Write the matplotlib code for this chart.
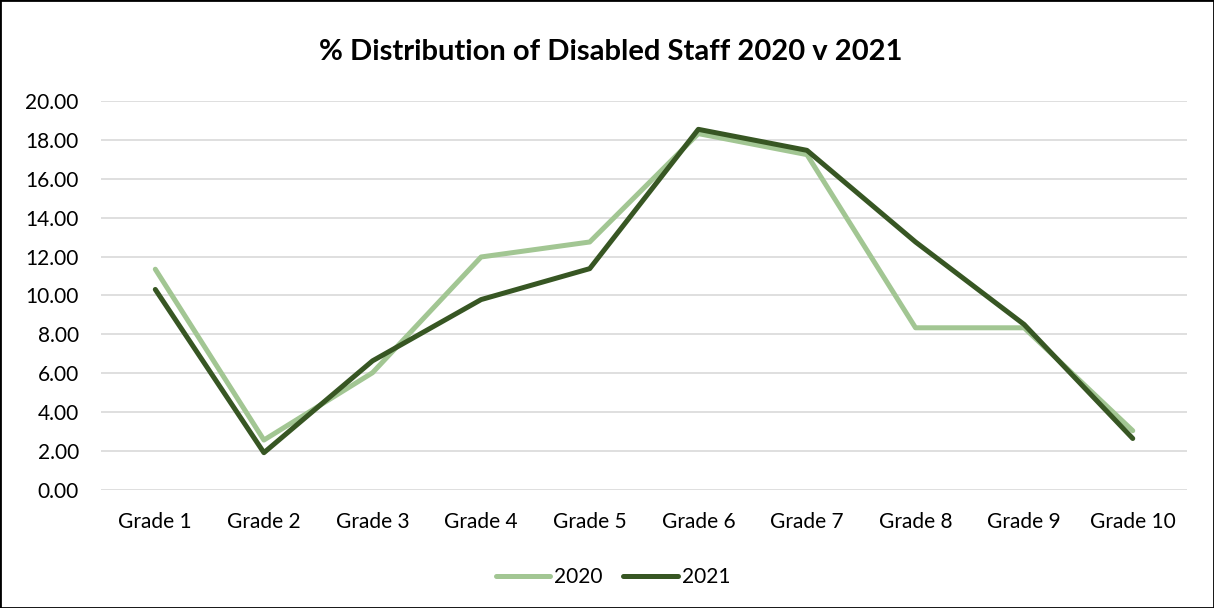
import matplotlib
matplotlib.use("Agg")
import matplotlib.pyplot as plt
from matplotlib.patches import Rectangle

plt.rcParams['font.family'] = ['Lato', 'DejaVu Sans']

grades = ['Grade 1', 'Grade 2', 'Grade 3', 'Grade 4', 'Grade 5',
          'Grade 6', 'Grade 7', 'Grade 8', 'Grade 9', 'Grade 10']
pct_2020 = [11.35, 2.57, 6.03, 11.98, 12.75, 18.32, 17.24, 8.34, 8.34, 3.05]
pct_2021 = [10.31, 1.92, 6.64, 9.79, 11.38, 18.54, 17.46, 12.75, 8.51, 2.65]
yticks = [0, 2, 4, 6, 8, 10, 12, 14, 16, 18, 20]

fig = plt.figure(figsize=(12.14, 6.08), dpi=100)
ax = fig.add_axes([0.0832, 0.194, 0.8946, 0.640])

x = range(len(grades))
ax.plot(x, pct_2020, color='#A2C693', lw=3.6, solid_capstyle='round',
        solid_joinstyle='round', label='2020')
ax.plot(x, pct_2021, color='#375623', lw=3.6, solid_capstyle='round',
        solid_joinstyle='round', label='2021')

ax.set_xlim(-0.5, len(grades) - 0.5)
ax.set_ylim(0, 20)
ax.set_yticks(yticks)
ax.set_yticklabels([f'{v:.2f}' for v in yticks], fontsize=15)
ax.set_xticks(list(x))
ax.set_xticklabels(grades, fontsize=15)
ax.tick_params(length=0)
ax.tick_params(axis='x', pad=16)
ax.tick_params(axis='y', pad=16)
ax.grid(axis='y', color='#D9D9D9', lw=1.2)
ax.set_axisbelow(True)
for s in ax.spines.values():
    s.set_visible(False)

fig.text(0.503, 0.914, '% Distribution of Disabled Staff 2020 v 2021',
         ha='center', va='center', fontsize=21, fontweight='bold')

fig.legend(loc='center', bbox_to_anchor=(0.505, 0.051), ncol=2, frameon=False,
           fontsize=15, handlelength=2.6, handletextpad=0.2, columnspacing=1.0)

fig.patches.append(Rectangle((0, 0), 1, 1, transform=fig.transFigure,
                             fill=False, edgecolor='black', lw=2))

fig.savefig('out.png', dpi=100)
